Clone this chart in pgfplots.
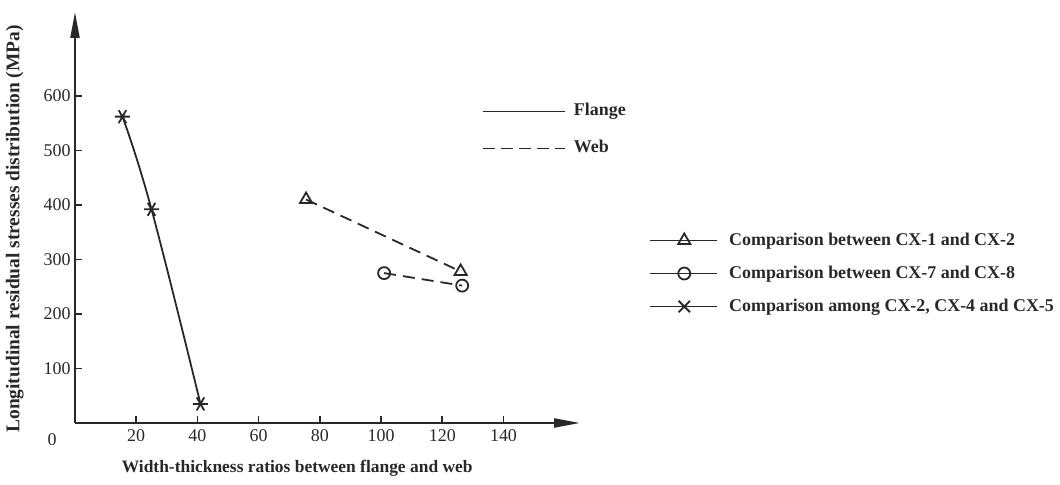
\documentclass[border=0pt]{standalone}
\usepackage{fontspec}
\setmainfont{Liberation Serif}
\usepackage{pgfplots}
\pgfplotsset{compat=1.18}
\usetikzlibrary{arrows.meta}
\definecolor{ink}{RGB}{40,40,40}

\begin{document}
\begin{tikzpicture}[x=1bp,y=1bp]
\useasboundingbox (0,0) rectangle (1060,485);
\begin{axis}[
  at={(75bp,62bp)}, anchor=south west,
  scale only axis, width=505bp, height=411bp,
  xmin=0, xmax=165, ymin=0, ymax=754,
  clip=false,
  axis lines=left,
  axis line style={ink, line width=2.2pt},
  x axis line style={-{Triangle[length=26bp,width=9bp]}},
  y axis line style={-{Triangle[length=26bp,width=9bp]}},
  tick align=inside, major tick length=7bp,
  tick style={ink, line width=1.6pt},
  xtick={20,40,...,140}, ytick={100,200,...,600},
  /pgf/number format/assume math mode=true,
  tick label style={font=\fontsize{18}{18}\selectfont, text=ink},
  xticklabel style={yshift=-3bp},
  yticklabel style={xshift=-1bp},
  xlabel={Width-thickness ratios between flange and web},
  xlabel style={font=\bfseries\fontsize{17.5}{17.5}\selectfont, text=ink,
    at={(rel axis cs:0.44,0)}, anchor=center, yshift=-45bp},
  ylabel={Longitudinal residual stresses distribution (MPa)},
  ylabel style={font=\bfseries\fontsize{19.5}{19.5}\selectfont, text=ink,
    at={(rel axis cs:-0.119,0.472)}, anchor=center, rotate=0},
  legend image code/.code={\draw[#1] (0bp,0bp) -- (82bp,0bp);},
  legend style={draw=none, fill=none, at={(rel axis cs:0.8,0.784)}, anchor=north west,
    font=\bfseries\fontsize{18}{18}\selectfont, text=ink,
    nodes={inner sep=0pt, text height=13bp, text depth=4bp},
    column sep=8bp, row sep=20bp},
  legend cell align=left,
]
\addlegendimage{ink, line width=1.8pt}
\addlegendentry{Flange}
\addlegendimage{ink, line width=1.8pt, dash pattern=on 12bp off 6bp}
\addlegendentry{Web}
% Flange series
\addplot[ink, line width=1.8pt, smooth, tension=0.7, mark=asterisk, mark size=7.5bp,
  mark options={rotate=90}, forget plot]
  coordinates {(15.5,562) (25,392) (41,35)};
% Web series
\addplot[ink, line width=1.8pt, dash pattern=on 12bp off 7bp, mark=triangle, mark size=7bp,
  mark options={solid, fill=white}, forget plot]
  coordinates {(75.5,410) (126,278)};
\addplot[ink, line width=1.8pt, dash pattern=on 12bp off 7bp, mark=o, mark size=6bp,
  mark options={solid, fill=white}, forget plot]
  coordinates {(101,275) (126.5,252)};
\node[font=\fontsize{18}{18}\selectfont, text=ink] at (axis cs:-7.5,-30) {0};
\end{axis}
\begin{axis}[
  at={(75bp,62bp)}, anchor=south west,
  scale only axis, width=505bp, height=411bp,
  xmin=0, xmax=165, ymin=0, ymax=754,
  hide axis,
  legend image code/.code={\draw[#1, mark repeat=2, mark phase=2]
    plot coordinates {(0bp,0bp) (34bp,0bp) (67bp,0bp)};},
  legend style={draw=none, fill=none, at={(rel axis cs:1.131,0.47)}, anchor=north west,
    font=\bfseries\fontsize{18}{18}\selectfont, text=ink,
    nodes={inner sep=0pt, text height=13bp, text depth=4bp},
    column sep=11bp, row sep=16bp},
  legend cell align=left,
]
\addlegendimage{ink, line width=1.8pt, mark=triangle, mark size=7bp, mark options={fill=white}}
\addlegendentry{Comparison between CX-1 and CX-2}
\addlegendimage{ink, line width=1.8pt, mark=o, mark size=6bp, mark options={fill=white}}
\addlegendentry{Comparison between CX-7 and CX-8}
\addlegendimage{ink, line width=1.8pt, mark=x, mark size=8bp}
\addlegendentry{Comparison among CX-2, CX-4 and CX-5}
\end{axis}
\end{tikzpicture}
\end{document}
